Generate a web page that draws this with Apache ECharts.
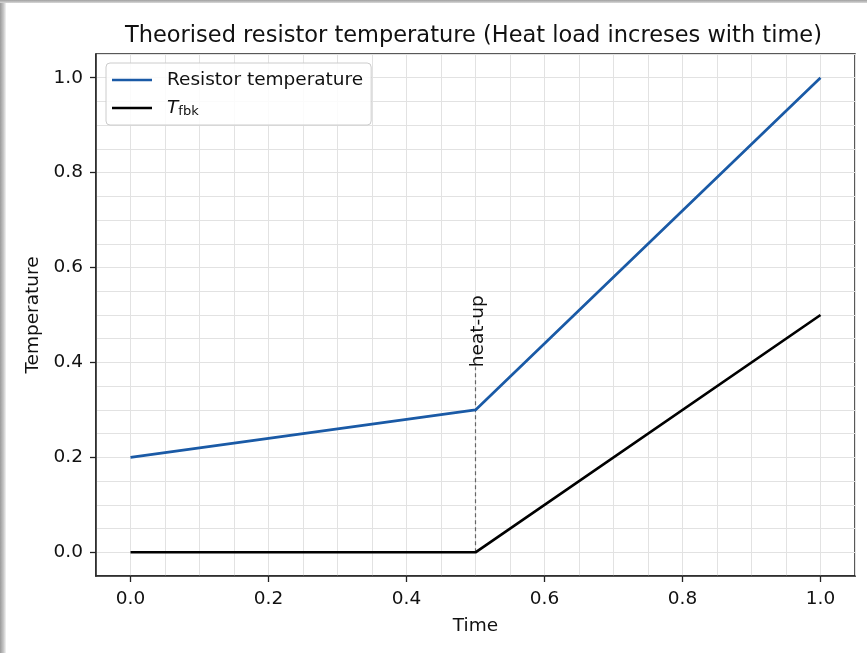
<!DOCTYPE html>
<html>
<head>
<meta charset="utf-8">
<script src="https://cdn.jsdelivr.net/npm/echarts@6/dist/echarts.min.js"></script>
<style>
  html, body { margin: 0; padding: 0; background: #fff; }
  #main { position: absolute; left: 0; top: 0; width: 867px; height: 653px; }
  /* grey window edge on the left and top */
  .edgeL { position: absolute; left: 0; top: 0; width: 6px; height: 653px;
    background: linear-gradient(to right, #9a9a9a, #c8c8c8 60%, #f4f4f4); }
  .edgeT { position: absolute; left: 0; top: 0; width: 867px; height: 3px;
    background: linear-gradient(to bottom, #a0a0a0, #d8d8d8); }
</style>
</head>
<body>
<div id="main"></div>
<div class="edgeL"></div>
<div class="edgeT"></div>
<script>
// data
const timeTicks = [0, 0.2, 0.4, 0.6, 0.8, 1.0];
const tempTicks = [0, 0.2, 0.4, 0.6, 0.8, 1.0];
const resistorT = [[0, 0.2], [0.5, 0.3], [1.0, 1.0]];
const fbkT = [[0, 0], [0.5, 0], [1.0, 0.5]];
const heatUpLine = [[0.5, 0], [0.5, 0.39]];

const FONT = 'DejaVu Sans';
const fs = 18.5;

const chart = echarts.init(document.getElementById('main'));

// axis 0 only draws the fine grid, axis 1 carries ticks and labels
const gridAxis = {
  type: 'value', min: -0.05, max: 1.05, interval: 0.05,
  axisLine: { show: false }, axisTick: { show: false }, axisLabel: { show: false },
  splitLine: { show: true, lineStyle: { color: '#e2e2e2', width: 1 } }
};

chart.setOption({
  animation: false,
  backgroundColor: '#fff',
  textStyle: { fontFamily: FONT },
  title: {
    text: 'Theorised resistor temperature (Heat load increses with time)',
    left: 125, top: 25, padding: 0,
    textStyle: { fontFamily: FONT, fontSize: 22.5, fontWeight: 'normal', color: '#111' }
  },
  grid: {
    left: 96, right: 12, top: 54, bottom: 77,
    show: true, borderColor: '#222', borderWidth: 1.5, backgroundColor: 'transparent'
  },
  legend: {
    orient: 'vertical', left: 106, top: 63,
    data: [
      { name: 'Resistor temperature', icon: 'rect' },
      { name: 'T_fbk', icon: 'rect' }
    ],
    itemWidth: 40, itemHeight: 2.7, itemGap: 8,
    padding: [7, 8, 7, 6],
    backgroundColor: 'rgba(255,255,255,0.85)',
    borderColor: '#cccccc', borderWidth: 1, borderRadius: 4,
    formatter: name => name === 'T_fbk' ? '{i|T}{s|fbk}' : '{n|' + name + '}',
    textStyle: {
      fontFamily: FONT, fontSize: fs, color: '#111', lineHeight: 20,
      rich: {
        n: { fontFamily: FONT, fontSize: fs, padding: [0, 0, 0, 10], lineHeight: 20 },
        i: { fontFamily: FONT, fontSize: fs, fontStyle: 'italic', padding: [0, 0, 0, 10], lineHeight: 20 },
        s: { fontFamily: FONT, fontSize: 13, padding: [7, 0, 0, 0], lineHeight: 14, verticalAlign: 'bottom' }
      }
    }
  },
  xAxis: [
    gridAxis,
    {
      type: 'value', min: -0.05, max: 1.05, position: 'bottom',
      name: 'Time', nameLocation: 'middle', nameGap: 41,
      nameTextStyle: { fontFamily: FONT, fontSize: fs, color: '#111' },
      axisLine: { show: true, onZero: false, lineStyle: { color: '#222', width: 1.5 } },
      axisTick: { show: true, length: 6, customValues: timeTicks, lineStyle: { color: '#222', width: 1.3 } },
      axisLabel: { customValues: timeTicks, margin: 14, fontFamily: FONT, fontSize: fs, color: '#111',
        formatter: v => v.toFixed(1) },
      splitLine: { show: false }
    }
  ],
  yAxis: [
    gridAxis,
    {
      type: 'value', min: -0.05, max: 1.05, position: 'left',
      name: 'Temperature', nameLocation: 'middle', nameGap: 48,
      nameTextStyle: { fontFamily: FONT, fontSize: fs, color: '#111' },
      axisLine: { show: true, onZero: false, lineStyle: { color: '#222', width: 1.5 } },
      axisTick: { show: true, length: 6, customValues: tempTicks, lineStyle: { color: '#222', width: 1.3 } },
      axisLabel: { customValues: tempTicks, margin: 13, fontFamily: FONT, fontSize: fs, color: '#111',
        formatter: v => v.toFixed(1) },
      splitLine: { show: false }
    }
  ],
  series: [
    {
      name: 'heat-up', type: 'line', data: heatUpLine,
      showSymbol: false, symbol: 'none', silent: true,
      lineStyle: { color: '#666', width: 1.2, type: [4, 3] },
      label: { show: false },
      endLabel: {
        show: true, formatter: 'heat-up', rotate: 90,
        distance: 0, offset: [0, 3],
        fontFamily: FONT, fontSize: fs, color: '#111'
      },
      z: 1
    },
    {
      name: 'Resistor temperature', type: 'line', data: resistorT,
      symbol: 'none', lineStyle: { color: '#1a5aa6', width: 2.7 }, itemStyle: { color: '#1a5aa6' }, z: 3
    },
    {
      name: 'T_fbk', type: 'line', data: fbkT,
      symbol: 'none', lineStyle: { color: '#000', width: 2.7 }, itemStyle: { color: '#000' }, z: 3
    }
  ]
});
</script>
</body>
</html>
